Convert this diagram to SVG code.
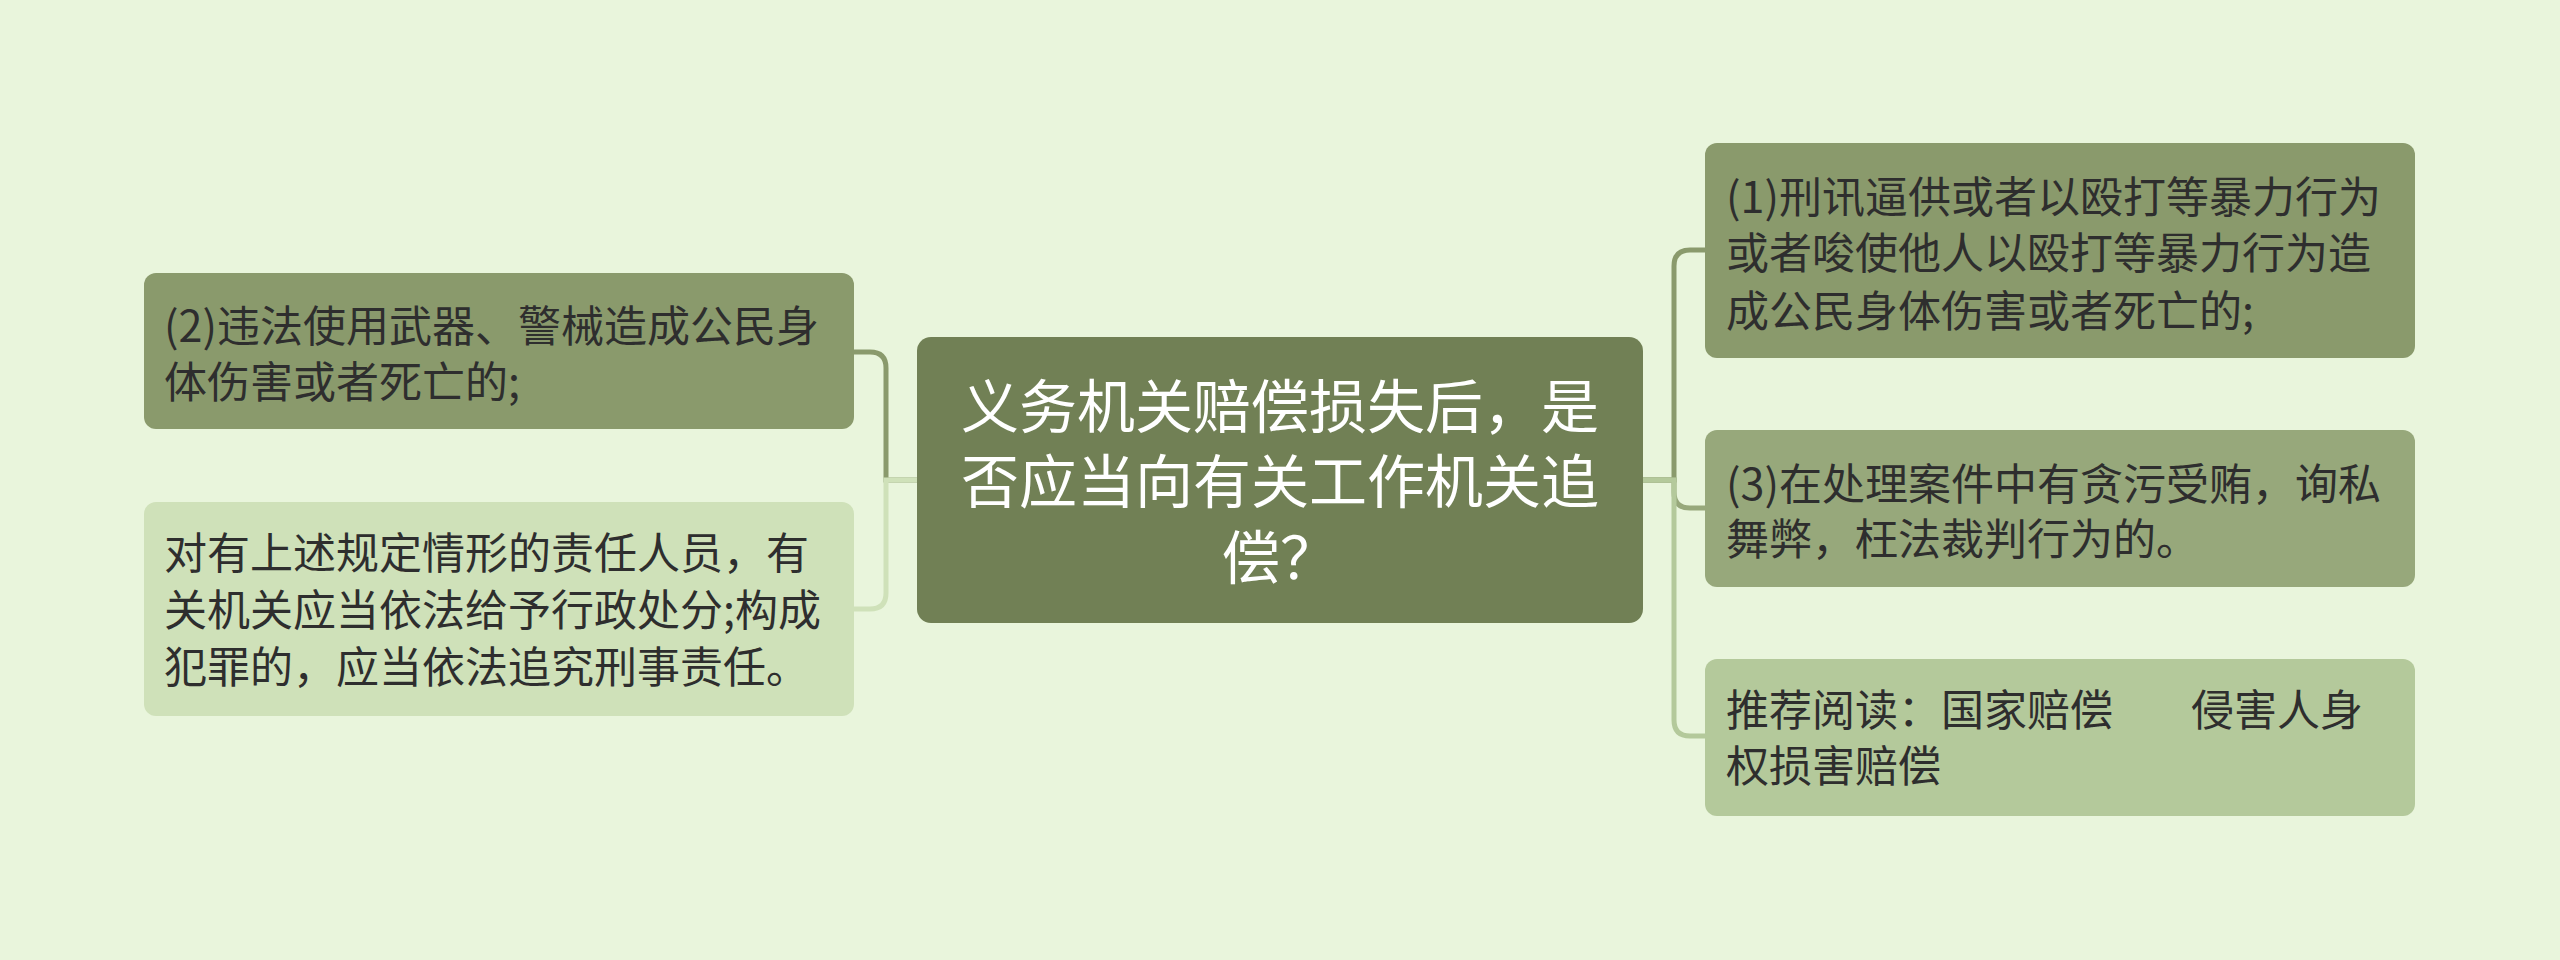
<svg xmlns="http://www.w3.org/2000/svg" width="2560" height="960" viewBox="0 0 2560 960">
<style>
.t{font-family:"Noto Sans CJK SC","Noto Sans",sans-serif;font-size:43px;fill:#2e2e2e}
.c{font-family:"Noto Sans CJK SC","Noto Sans",sans-serif;font-size:58px;fill:#ffffff;text-anchor:middle}
.ln{fill:none;stroke-width:5;stroke-linecap:butt}
</style>
<rect width="2560" height="960" fill="#e9f5dc"/>
<g id="connectors">
<path class="ln" stroke="#8a9a6c" d="M917,480 H886 V368 Q886,352 870,352 H854"/>
<path class="ln" stroke="#cfe1b9" d="M917,480 H886 V593 Q886,609 870,609 H854"/>
<path class="ln" stroke="#8a9a6c" d="M1642,480 H1674 V266 Q1674,250 1690,250 H1705"/>
<path class="ln" stroke="#97a87b" d="M1642,480 H1674 V492 Q1674,508 1690,508 H1705"/>
<path class="ln" stroke="#b4c99b" d="M1642,480 H1674 V720 Q1674,736 1690,736 H1705"/>
</g>
<g id="center">
<rect x="917" y="337" width="726" height="286" rx="14" fill="#718055"/>
<text class="c"><tspan x="1280" y="428">义务机关赔偿损失后，是</tspan><tspan x="1280" y="503">否应当向有关工作机关追</tspan><tspan x="1280" y="579">偿？</tspan></text>
</g>
<g id="node-left-1">
<rect x="144" y="273" width="710" height="156" rx="12" fill="#8a9a6c"/>
<text class="t"><tspan x="164" y="342">(2)违法使用武器、警械造成公民身</tspan><tspan x="164" y="398">体伤害或者死亡的;</tspan></text>
</g>
<g id="node-left-2">
<rect x="144" y="502" width="710" height="214" rx="12" fill="#cfe1b9"/>
<text class="t"><tspan x="164" y="569">对有上述规定情形的责任人员，有</tspan><tspan x="164" y="626">关机关应当依法给予行政处分;构成</tspan><tspan x="164" y="683">犯罪的，应当依法追究刑事责任。</tspan></text>
</g>
<g id="node-right-1">
<rect x="1705" y="143" width="710" height="215" rx="12" fill="#8a9a6c"/>
<text class="t"><tspan x="1726" y="213">(1)刑讯逼供或者以殴打等暴力行为</tspan><tspan x="1726" y="269">或者唆使他人以殴打等暴力行为造</tspan><tspan x="1726" y="327">成公民身体伤害或者死亡的;</tspan></text>
</g>
<g id="node-right-2">
<rect x="1705" y="430" width="710" height="157" rx="12" fill="#97a87b"/>
<text class="t"><tspan x="1726" y="500">(3)在处理案件中有贪污受贿，询私</tspan><tspan x="1726" y="555">舞弊，枉法裁判行为的。</tspan></text>
</g>
<g id="node-right-3">
<rect x="1705" y="659" width="710" height="157" rx="12" fill="#b4c99b"/>
<text class="t"><tspan x="1726" y="726">推荐阅读：国家赔偿</tspan><tspan x="2191" y="726">侵害人身</tspan><tspan x="1726" y="782">权损害赔偿</tspan></text>
</g>
</svg>
